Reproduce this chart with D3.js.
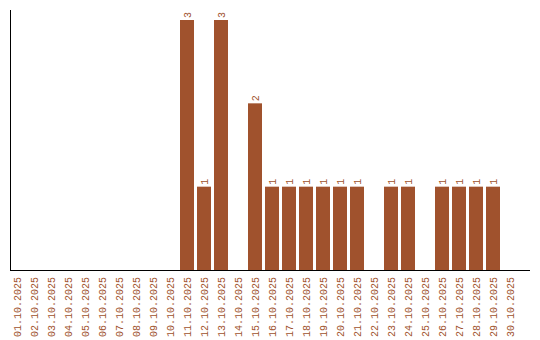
<!DOCTYPE html>
<meta charset="utf-8">
<title>Oktober</title>
<style>
  body { margin: 0; background: #fff; }
  text { font-family: "Liberation Mono", monospace; font-size: 10px; fill: #A0522D; }
</style>
<script src="https://d3js.org/d3.v7.min.js"></script>
<div id="chart"></div>
<script>
var dates = ["01.10.2025","02.10.2025","03.10.2025","04.10.2025","05.10.2025","06.10.2025",
  "07.10.2025","08.10.2025","09.10.2025","10.10.2025","11.10.2025","12.10.2025","13.10.2025",
  "14.10.2025","15.10.2025","16.10.2025","17.10.2025","18.10.2025","19.10.2025","20.10.2025",
  "21.10.2025","22.10.2025","23.10.2025","24.10.2025","25.10.2025","26.10.2025","27.10.2025",
  "28.10.2025","29.10.2025","30.10.2025"];
var counts = [0,0,0,0,0,0,0,0,0,0,3,1,3,0,2,1,1,1,1,1,1,0,1,1,0,1,1,1,1,0];

var width = 540, height = 340;
var marginLeft = 10, plotBottom = 270, plotTop = 20;

var svg = d3.select("#chart")
  .append("svg")
    .attr("width", width)
    .attr("height", height);

var x = d3.scaleBand()
  .domain(dates)
  .range([marginLeft, marginLeft + 17 * dates.length - 3])
  .paddingInner(3 / 17)
  .paddingOuter(0);

var y = d3.scaleLinear()
  .domain([0, d3.max(counts)])
  .range([plotBottom, plotTop]);

var data = dates.map(function(d, i) { return {date: d, value: counts[i]}; });
var nonZero = data.filter(function(d) { return d.value > 0; });

// bars
svg.selectAll("rect")
  .data(nonZero)
  .enter()
  .append("rect")
    .attr("x", function(d) { return x(d.date); })
    .attr("y", function(d) { return y(d.value); })
    .attr("width", x.bandwidth())
    .attr("height", function(d) { return plotBottom - y(d.value); })
    .attr("fill", "#A0522D");

// values above the bars, turned
svg.selectAll("text.val")
  .data(nonZero)
  .enter()
  .append("text")
    .attr("class", "val")
    .attr("transform", function(d) {
      return "translate(" + (x(d.date) + x.bandwidth() / 2) + "," + (y(d.value) - 2) + ") rotate(-90)";
    })
    .attr("dy", "0.35em")
    .attr("text-anchor", "start")
    .text(function(d) { return d.value; });

// date labels
svg.selectAll("text.date")
  .data(dates)
  .enter()
  .append("text")
    .attr("class", "date")
    .attr("transform", function(d) {
      return "translate(" + (x(d) + x.bandwidth() / 2) + "," + (plotBottom + 7) + ") rotate(-90)";
    })
    .attr("dy", "0.35em")
    .attr("text-anchor", "end")
    .text(function(d) { return d; });

// axes
svg.append("line")
  .attr("x1", marginLeft + 0.5).attr("x2", marginLeft + 0.5)
  .attr("y1", 10).attr("y2", plotBottom)
  .attr("stroke", "#000");
svg.append("line")
  .attr("x1", marginLeft).attr("x2", 530)
  .attr("y1", plotBottom + 0.5).attr("y2", plotBottom + 0.5)
  .attr("stroke", "#000");
</script>
